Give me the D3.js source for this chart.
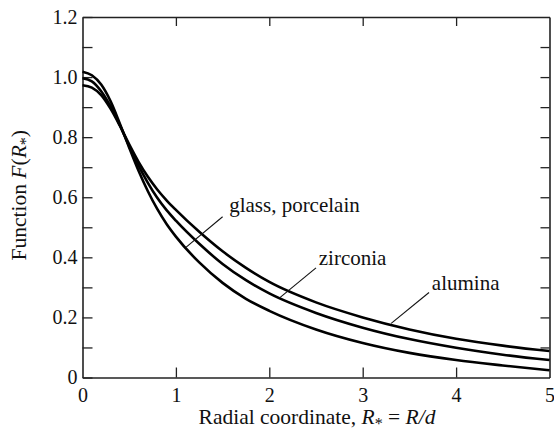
<!DOCTYPE html>
<html>
<head>
<meta charset="utf-8">
<script src="https://cdn.jsdelivr.net/npm/d3@7"></script>
<style>
  body { margin: 0; background: #fff; }
</style>
</head>
<body>
<div id="chart"></div>
<script>
// radial coordinate R* = R/d
const radial = [0, 0.1, 0.2, 0.3, 0.4, 0.5, 0.6, 0.7, 0.8, 0.9, 1.0, 1.25, 1.5, 1.75, 2.0, 2.5, 3.0, 3.5, 4.0, 4.5, 5.0];

// F(R*) for each material
const glassPorcelain = [1.018, 1.006, 0.975, 0.92, 0.845, 0.765, 0.688, 0.62, 0.561, 0.511, 0.469, 0.383, 0.315, 0.262, 0.222, 0.16, 0.115, 0.082, 0.058, 0.04, 0.024];
const zirconia       = [0.996, 0.986, 0.953, 0.903, 0.84, 0.77, 0.705, 0.648, 0.598, 0.557, 0.522, 0.445, 0.378, 0.324, 0.28, 0.215, 0.166, 0.128, 0.099, 0.076, 0.058];
const alumina        = [0.973, 0.965, 0.94, 0.895, 0.838, 0.776, 0.718, 0.668, 0.626, 0.59, 0.558, 0.485, 0.42, 0.365, 0.318, 0.25, 0.2, 0.16, 0.129, 0.106, 0.088];

// labels: text anchor (R, F) and leader line from -> to
const labelNames  = ["glass, porcelain", "zirconia", "alumina"];
const labelText   = [[1.57, 0.55], [2.53, 0.373], [3.74, 0.292]];
const leaderFrom  = [[1.50, 0.535], [2.50, 0.365], [3.71, 0.283]];
const leaderTo    = [[1.107, 0.433], [2.11, 0.265], [3.305, 0.18]];

const xTicks = [0, 1, 2, 3, 4, 5];
const yTicks = [0, 0.1, 0.2, 0.3, 0.4, 0.5, 0.6, 0.7, 0.8, 0.9, 1.0, 1.1, 1.2];

const serif = "Liberation Serif";

const width = 554, height = 437;
const margin = {top: 17, right: 4.5, bottom: 59.5, left: 82.5};

const svg = d3.select("#chart")
    .append("svg")
    .attr("width", width)
    .attr("height", height);

const x = d3.scaleLinear()
    .domain([0, 5])
    .range([margin.left, width - margin.right]);
const y = d3.scaleLinear()
    .domain([0, 1.2])
    .range([height - margin.bottom, margin.top]);

const fmtY = d => d === 0 ? "0" : d3.format(".1f")(d);

// left axis, inward ticks every 0.1, labels every 0.2
const gLeft = svg.append("g")
    .attr("transform", `translate(${margin.left},0)`)
    .call(d3.axisLeft(y).tickValues(yTicks)
        .tickFormat(d => Math.round(d * 10) % 2 === 0 ? fmtY(d) : "")
        .tickSizeInner(-10).tickSizeOuter(0).tickPadding(5));

// right axis
const gRight = svg.append("g")
    .attr("transform", `translate(${width - margin.right},0)`)
    .call(d3.axisRight(y).tickValues(yTicks.slice(1, -1))
        .tickFormat("").tickSizeInner(-9).tickSizeOuter(0));

// top axis
const gTop = svg.append("g")
    .attr("transform", `translate(0,${margin.top})`)
    .call(d3.axisTop(x).tickValues(xTicks.slice(1, -1))
        .tickFormat("").tickSizeInner(-9).tickSizeOuter(0));

// bottom axis
const gBottom = svg.append("g")
    .attr("transform", `translate(0,${height - margin.bottom})`)
    .call(d3.axisBottom(x).tickValues(xTicks)
        .tickFormat(d3.format("d")).tickSizeInner(-10).tickSizeOuter(0).tickPadding(5));

[gLeft, gRight, gTop, gBottom].forEach(g => {
    g.attr("font-family", serif);
    g.select(".domain").attr("stroke", "#222").attr("stroke-width", 1.6);
    g.selectAll(".tick line").attr("stroke", "#222").attr("stroke-width", 1.3);
    g.selectAll(".tick text")
        .attr("font-family", serif)
        .attr("font-size", 20)
        .attr("fill", "#111");
});
gBottom.selectAll(".tick text").attr("dy", "0.95em");
gBottom.selectAll(".tick").filter(d => d === 0 || d === 5).select("line").remove();

// curves
const line = d3.line()
    .x((d, i) => x(radial[i]))
    .y(d => y(d))
    .curve(d3.curveMonotoneX);

[glassPorcelain, zirconia, alumina].forEach(s => {
    svg.append("path")
        .datum(s)
        .attr("fill", "none")
        .attr("stroke", "#000")
        .attr("stroke-width", 2.6)
        .attr("d", line);
});

// leader lines and labels
labelNames.forEach((name, i) => {
    svg.append("line")
        .attr("x1", x(leaderFrom[i][0])).attr("y1", y(leaderFrom[i][1]))
        .attr("x2", x(leaderTo[i][0])).attr("y2", y(leaderTo[i][1]))
        .attr("stroke", "#111")
        .attr("stroke-width", 1.1);
    svg.append("text")
        .attr("x", x(labelText[i][0]))
        .attr("y", y(labelText[i][1]))
        .attr("font-family", serif)
        .attr("font-size", 21)
        .attr("fill", "#111")
        .text(name);
});

// x axis title
const xTitle = svg.append("text")
    .attr("x", (x(0) + x(5)) / 2 + 1)
    .attr("y", 424)
    .attr("text-anchor", "middle")
    .attr("font-family", serif)
    .attr("font-size", 21.5)
    .attr("fill", "#111");
xTitle.append("tspan").text("Radial coordinate, ");
xTitle.append("tspan").attr("font-style", "italic").text("R");
xTitle.append("tspan").attr("font-size", 16).attr("dy", 5).text("*");
xTitle.append("tspan").attr("dy", -5).text(" = ");
xTitle.append("tspan").attr("font-style", "italic").text("R/d");

// y axis title
const yTitle = svg.append("text")
    .attr("transform", `translate(26,${(y(0) + y(1.2)) / 2 - 2}) rotate(-90)`)
    .attr("text-anchor", "middle")
    .attr("font-family", serif)
    .attr("font-size", 21.5)
    .attr("fill", "#111");
yTitle.append("tspan").text("Function ");
yTitle.append("tspan").attr("font-style", "italic").text("F");
yTitle.append("tspan").text("(");
yTitle.append("tspan").attr("font-style", "italic").text("R");
yTitle.append("tspan").attr("font-size", 16).attr("dy", 5).text("*");
yTitle.append("tspan").attr("dy", -5).text(")");
</script>
</body>
</html>
